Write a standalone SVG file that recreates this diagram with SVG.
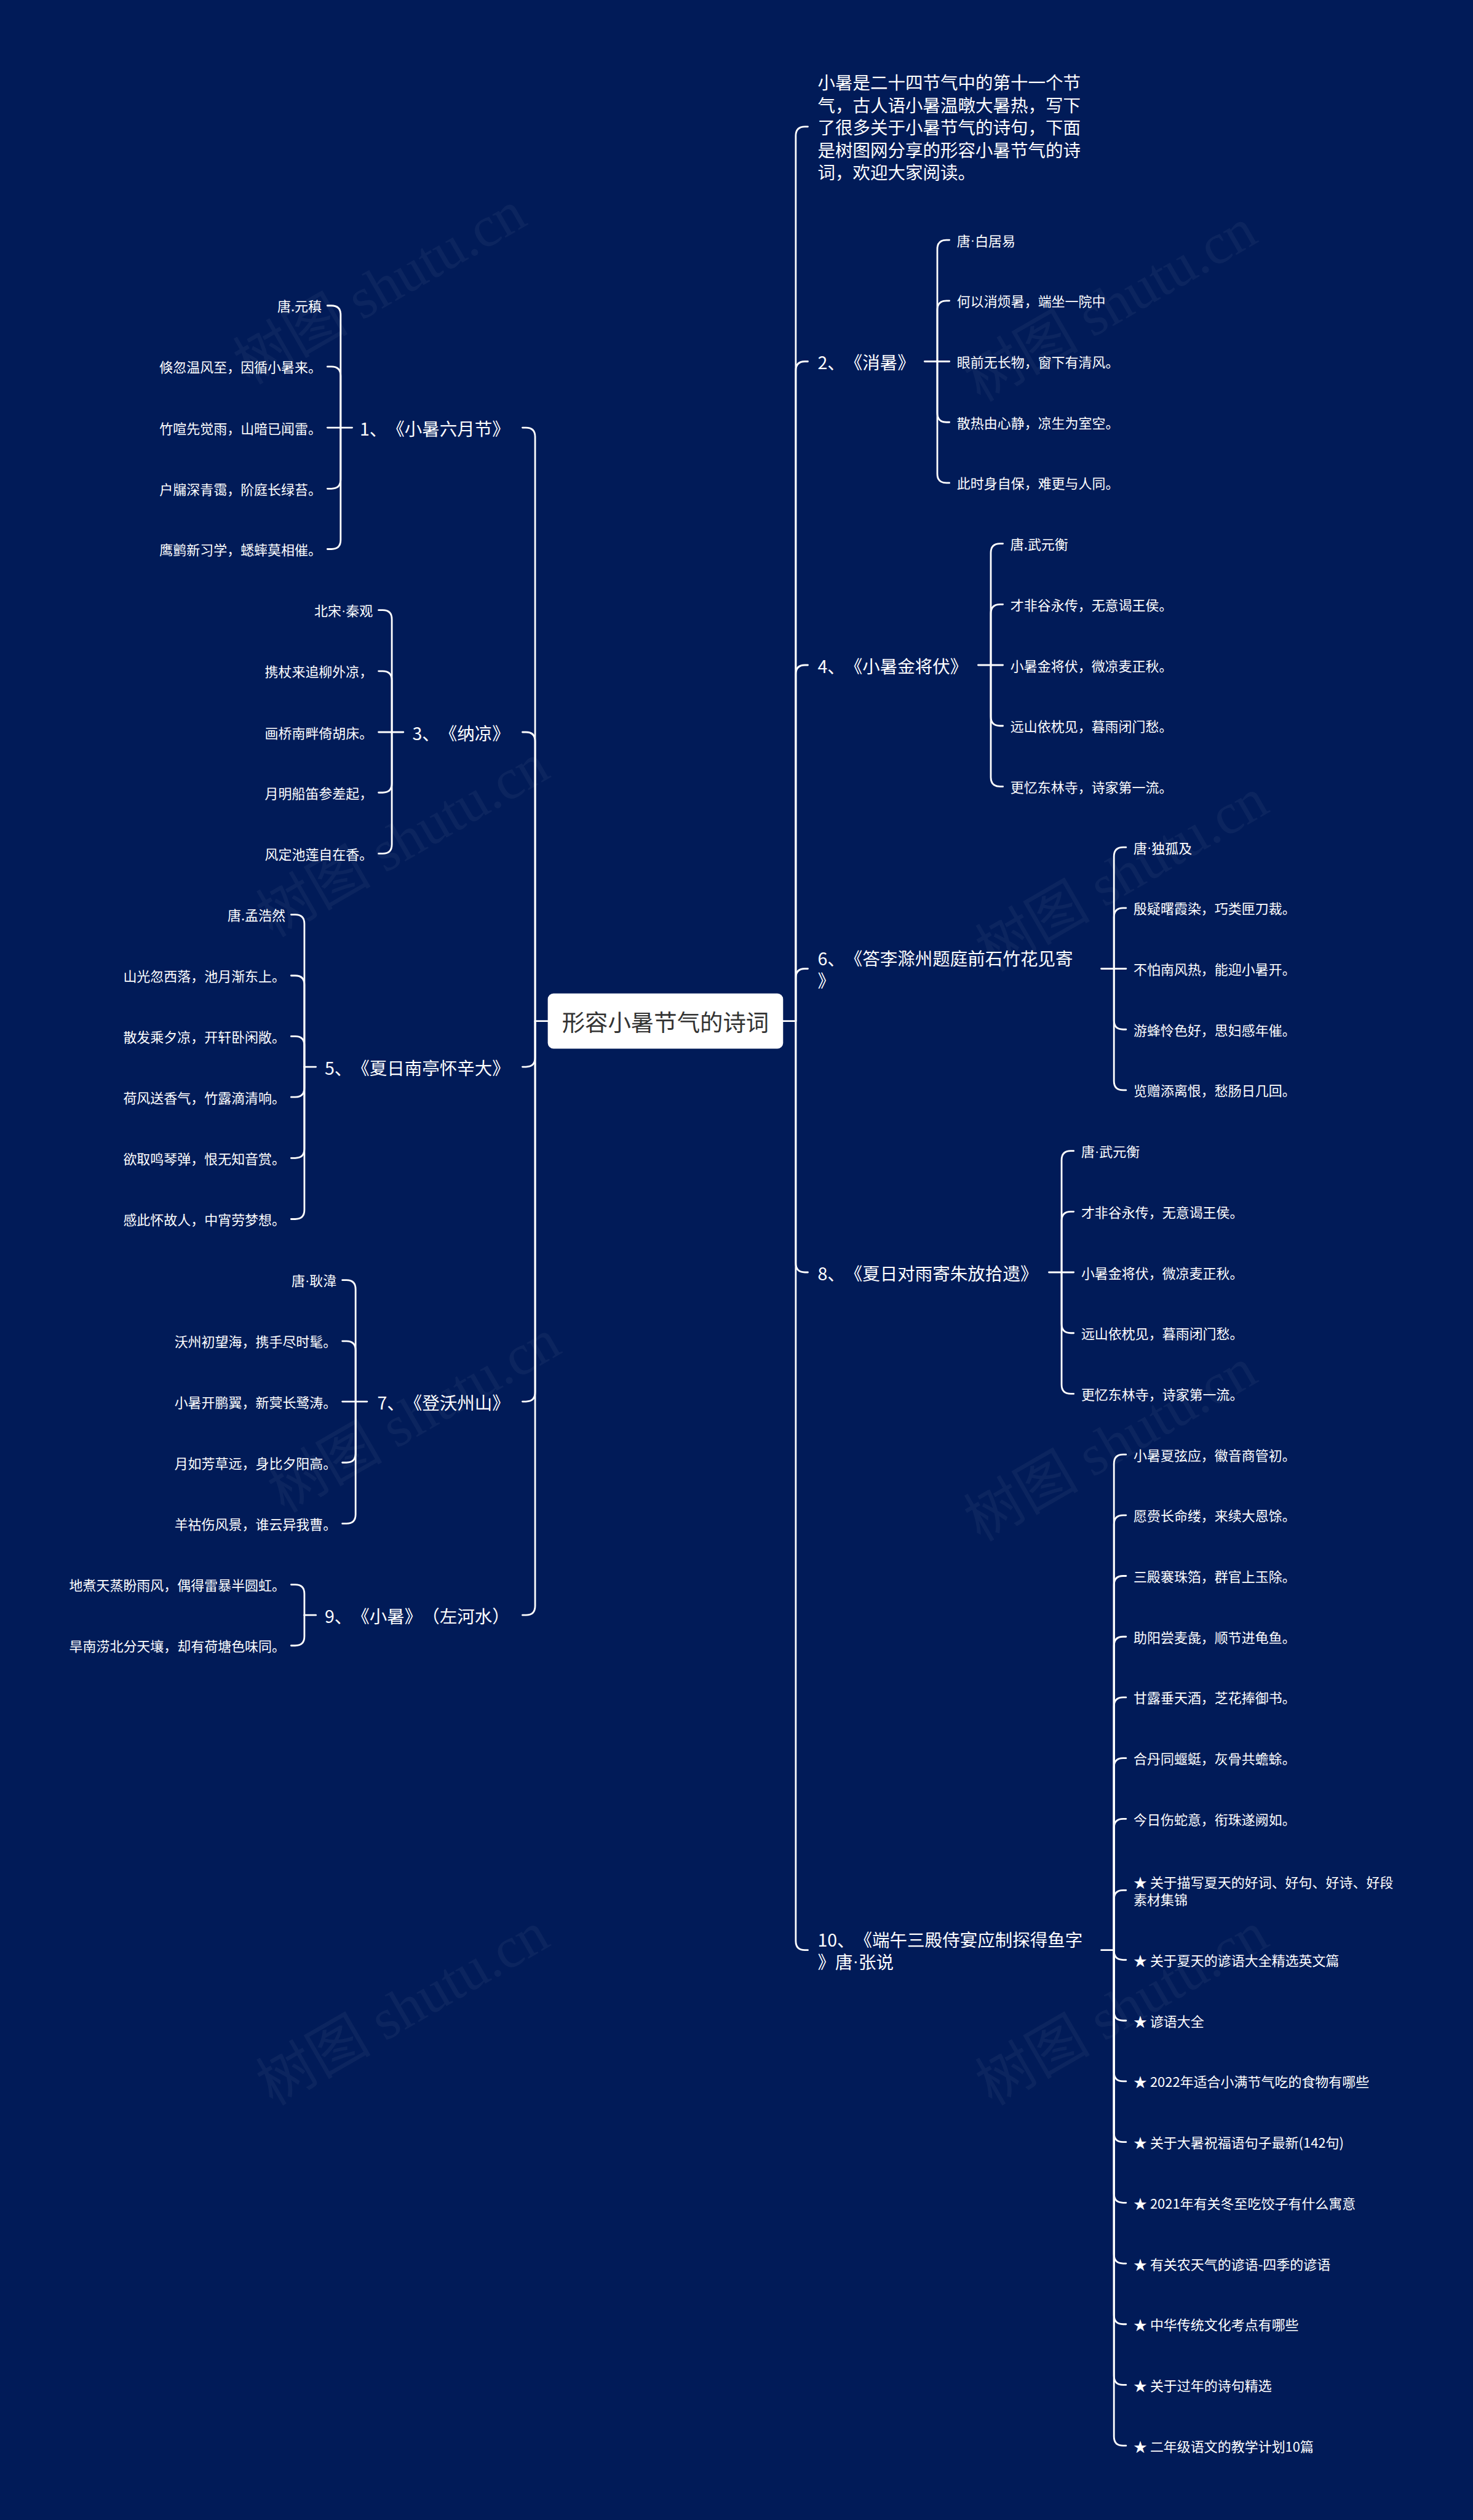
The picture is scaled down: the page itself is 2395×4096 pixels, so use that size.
<svg xmlns="http://www.w3.org/2000/svg" width="2395" height="4096" viewBox="0 0 2395 4096">
<style>
text{font-family:"Noto Sans CJK SC","Noto Sans",sans-serif;dominant-baseline:central;fill:#ffffff;text-spacing-trim:space-all}
.root{font-size:40px;fill:#333333;text-anchor:middle}
.l1{font-size:30.5px}
.lf{font-size:23.5px}
.e{text-anchor:end}
.d{font-family:"Liberation Sans",sans-serif}
.c path{fill:none;stroke:#ffffff;stroke-width:3;stroke-linecap:round}
.wm{font-family:"Liberation Serif","Noto Sans CJK SC",serif;font-size:100px;fill:#ffffff;opacity:0.045}
</style>
<rect x="0" y="0" width="2395" height="4096" fill="#011b58"/>
<g transform="scale(0.935547)">
<g id="watermark">
<text class="wm" transform="translate(660,500) rotate(-30)" text-anchor="middle">树图 shutu.cn</text>
<text class="wm" transform="translate(1930,530) rotate(-30)" text-anchor="middle">树图 shutu.cn</text>
<text class="wm" transform="translate(700,1460) rotate(-30)" text-anchor="middle">树图 shutu.cn</text>
<text class="wm" transform="translate(1950,1520) rotate(-30)" text-anchor="middle">树图 shutu.cn</text>
<text class="wm" transform="translate(720,2460) rotate(-30)" text-anchor="middle">树图 shutu.cn</text>
<text class="wm" transform="translate(1930,2510) rotate(-30)" text-anchor="middle">树图 shutu.cn</text>
<text class="wm" transform="translate(700,3490) rotate(-30)" text-anchor="middle">树图 shutu.cn</text>
<text class="wm" transform="translate(1950,3490) rotate(-30)" text-anchor="middle">树图 shutu.cn</text>
</g>
<g id="connectors" class="c">
<path d="M952 1774H930M1361 1774H1383"/>
<path d="M1383 1774V236Q1383 220 1399 220H1404"/>
<path d="M1383 1774V644Q1383 628 1399 628H1404"/>
<path d="M1383 1774V1171.5Q1383 1155.5 1399 1155.5H1404"/>
<path d="M1383 1774V1699Q1383 1683 1399 1683H1404"/>
<path d="M1383 1774V2194.5Q1383 2210.5 1399 2210.5H1404"/>
<path d="M1383 1774V3372Q1383 3388 1399 3388H1404"/>
<path d="M930 1774V759Q930 743 914 743H908"/>
<path d="M930 1774V1288Q930 1272 914 1272H908"/>
<path d="M930 1774V1837.5Q930 1853.5 914 1853.5H908"/>
<path d="M930 1774V2419Q930 2435 914 2435H908"/>
<path d="M930 1774V2790Q930 2806 914 2806H908"/>
<path d="M1607 628H1650"/>
<path d="M1629 628V433Q1629 417 1645 417H1650"/>
<path d="M1629 628V538.5Q1629 522.5 1645 522.5H1650"/>
<path d="M1629 628V717.5Q1629 733.5 1645 733.5H1650"/>
<path d="M1629 628V823Q1629 839 1645 839H1650"/>
<path d="M1700 1155.5H1743"/>
<path d="M1722 1155.5V960.5Q1722 944.5 1738 944.5H1743"/>
<path d="M1722 1155.5V1066Q1722 1050 1738 1050H1743"/>
<path d="M1722 1155.5V1245Q1722 1261 1738 1261H1743"/>
<path d="M1722 1155.5V1350.5Q1722 1366.5 1738 1366.5H1743"/>
<path d="M1914 1683H1957"/>
<path d="M1936 1683V1488Q1936 1472 1952 1472H1957"/>
<path d="M1936 1683V1593.5Q1936 1577.5 1952 1577.5H1957"/>
<path d="M1936 1683V1772.5Q1936 1788.5 1952 1788.5H1957"/>
<path d="M1936 1683V1878Q1936 1894 1952 1894H1957"/>
<path d="M1823 2210.5H1866"/>
<path d="M1845 2210.5V2015.5Q1845 1999.5 1861 1999.5H1866"/>
<path d="M1845 2210.5V2121Q1845 2105 1861 2105H1866"/>
<path d="M1845 2210.5V2300Q1845 2316 1861 2316H1866"/>
<path d="M1845 2210.5V2405.5Q1845 2421.5 1861 2421.5H1866"/>
<path d="M1914 3388H1936"/>
<path d="M1936 3388V2543Q1936 2527 1952 2527H1957"/>
<path d="M1936 3388V2648.5Q1936 2632.5 1952 2632.5H1957"/>
<path d="M1936 3388V2754Q1936 2738 1952 2738H1957"/>
<path d="M1936 3388V2859.5Q1936 2843.5 1952 2843.5H1957"/>
<path d="M1936 3388V2965Q1936 2949 1952 2949H1957"/>
<path d="M1936 3388V3070.5Q1936 3054.5 1952 3054.5H1957"/>
<path d="M1936 3388V3176Q1936 3160 1952 3160H1957"/>
<path d="M1936 3388V3300Q1936 3284 1952 3284H1957"/>
<path d="M1936 3388V3389Q1936 3405 1952 3405H1957"/>
<path d="M1936 3388V3494.5Q1936 3510.5 1952 3510.5H1957"/>
<path d="M1936 3388V3600Q1936 3616 1952 3616H1957"/>
<path d="M1936 3388V3705.5Q1936 3721.5 1952 3721.5H1957"/>
<path d="M1936 3388V3811Q1936 3827 1952 3827H1957"/>
<path d="M1936 3388V3916.5Q1936 3932.5 1952 3932.5H1957"/>
<path d="M1936 3388V4022Q1936 4038 1952 4038H1957"/>
<path d="M1936 3388V4127.5Q1936 4143.5 1952 4143.5H1957"/>
<path d="M1936 3388V4233Q1936 4249 1952 4249H1957"/>
<path d="M612 743H569"/>
<path d="M592 743V547Q592 531 576 531H569"/>
<path d="M592 743V653Q592 637 576 637H569"/>
<path d="M592 743V833Q592 849 576 849H569"/>
<path d="M592 743V938Q592 954 576 954H569"/>
<path d="M701 1272H658"/>
<path d="M681 1272V1076Q681 1060 665 1060H658"/>
<path d="M681 1272V1182Q681 1166 665 1166H658"/>
<path d="M681 1272V1361Q681 1377 665 1377H658"/>
<path d="M681 1272V1467Q681 1483 665 1483H658"/>
<path d="M549 1853.5H529"/>
<path d="M529 1853.5V1605Q529 1589 513 1589H506"/>
<path d="M529 1853.5V1711Q529 1695 513 1695H506"/>
<path d="M529 1853.5V1816.5Q529 1800.5 513 1800.5H506"/>
<path d="M529 1853.5V1890Q529 1906 513 1906H506"/>
<path d="M529 1853.5V1996Q529 2012 513 2012H506"/>
<path d="M529 1853.5V2102Q529 2118 513 2118H506"/>
<path d="M638 2435H595"/>
<path d="M618 2435V2240Q618 2224 602 2224H595"/>
<path d="M618 2435V2346Q618 2330 602 2330H595"/>
<path d="M618 2435V2525Q618 2541 602 2541H595"/>
<path d="M618 2435V2631Q618 2647 602 2647H595"/>
<path d="M549 2806H529"/>
<path d="M529 2806V2769Q529 2753 513 2753H506"/>
<path d="M529 2806V2843Q529 2859 513 2859H506"/>
</g>
<g id="n-root">
<rect x="952" y="1726" width="409" height="96" rx="10" fill="#ffffff"/>
<text class="root" x="1156.5" y="1774">形容小暑节气的诗词</text>
</g>
<g id="n-intro">
<text class="l1" x="1421" y="142">小暑是二十四节气中的第十一个节</text>
<text class="l1" x="1421" y="181">气，古人语小暑温暾大暑热，写下</text>
<text class="l1" x="1421" y="220">了很多关于小暑节气的诗句，下面</text>
<text class="l1" x="1421" y="259">是树图网分享的形容小暑节气的诗</text>
<text class="l1" x="1421" y="298">词，欢迎大家阅读。</text>
</g>
<g id="n-b2">
<text class="l1" x="1421" y="628">2、《消暑》</text>
</g>
<g id="n-b2-leaves">
<text class="lf" x="1663" y="417">唐<tspan class="d">·</tspan>白居易</text>
<text class="lf" x="1663" y="522.5">何以消烦暑，端坐一院中</text>
<text class="lf" x="1663" y="628">眼前无长物，窗下有清风。</text>
<text class="lf" x="1663" y="733.5">散热由心静，凉生为室空。</text>
<text class="lf" x="1663" y="839">此时身自保，难更与人同。</text>
</g>
<g id="n-b4">
<text class="l1" x="1421" y="1155.5">4、《小暑金将伏》</text>
</g>
<g id="n-b4-leaves">
<text class="lf" x="1756" y="944.5">唐.武元衡</text>
<text class="lf" x="1756" y="1050">才非谷永传，无意谒王侯。</text>
<text class="lf" x="1756" y="1155.5">小暑金将伏，微凉麦正秋。</text>
<text class="lf" x="1756" y="1261">远山依枕见，暮雨闭门愁。</text>
<text class="lf" x="1756" y="1366.5">更忆东林寺，诗家第一流。</text>
</g>
<g id="n-b6">
<text class="l1" x="1421" y="1664">6、《答李滁州题庭前石竹花见寄</text>
<text class="l1" x="1421" y="1702">》</text>
</g>
<g id="n-b6-leaves">
<text class="lf" x="1970" y="1472">唐<tspan class="d">·</tspan>独孤及</text>
<text class="lf" x="1970" y="1577.5">殷疑曙霞染，巧类匣刀裁。</text>
<text class="lf" x="1970" y="1683">不怕南风热，能迎小暑开。</text>
<text class="lf" x="1970" y="1788.5">游蜂怜色好，思妇感年催。</text>
<text class="lf" x="1970" y="1894">览赠添离恨，愁肠日几回。</text>
</g>
<g id="n-b8">
<text class="l1" x="1421" y="2210.5">8、《夏日对雨寄朱放拾遗》</text>
</g>
<g id="n-b8-leaves">
<text class="lf" x="1879" y="1999.5">唐<tspan class="d">·</tspan>武元衡</text>
<text class="lf" x="1879" y="2105">才非谷永传，无意谒王侯。</text>
<text class="lf" x="1879" y="2210.5">小暑金将伏，微凉麦正秋。</text>
<text class="lf" x="1879" y="2316">远山依枕见，暮雨闭门愁。</text>
<text class="lf" x="1879" y="2421.5">更忆东林寺，诗家第一流。</text>
</g>
<g id="n-b10">
<text class="l1" x="1421" y="3369">10、《端午三殿侍宴应制探得鱼字</text>
<text class="l1" x="1421" y="3407">》唐<tspan class="d">·</tspan>张说</text>
</g>
<g id="n-b10-leaves">
<text class="lf" x="1970" y="2527">小暑夏弦应，徽音商管初。</text>
<text class="lf" x="1970" y="2632.5">愿赍长命缕，来续大恩馀。</text>
<text class="lf" x="1970" y="2738">三殿褰珠箔，群官上玉除。</text>
<text class="lf" x="1970" y="2843.5">助阳尝麦彘，顺节进龟鱼。</text>
<text class="lf" x="1970" y="2949">甘露垂天酒，芝花捧御书。</text>
<text class="lf" x="1970" y="3054.5">合丹同蝘蜓，灰骨共蟾蜍。</text>
<text class="lf" x="1970" y="3160">今日伤蛇意，衔珠遂阙如。</text>
<text class="lf" x="1970" y="3269">★ 关于描写夏天的好词、好句、好诗、好段</text>
<text class="lf" x="1970" y="3299">素材集锦</text>
<text class="lf" x="1970" y="3405">★ 关于夏天的谚语大全精选英文篇</text>
<text class="lf" x="1970" y="3510.5">★ 谚语大全</text>
<text class="lf" x="1970" y="3616">★ 2022年适合小满节气吃的食物有哪些</text>
<text class="lf" x="1970" y="3721.5">★ 关于大暑祝福语句子最新(142句)</text>
<text class="lf" x="1970" y="3827">★ 2021年有关冬至吃饺子有什么寓意</text>
<text class="lf" x="1970" y="3932.5">★ 有关农天气的谚语-四季的谚语</text>
<text class="lf" x="1970" y="4038">★ 中华传统文化考点有哪些</text>
<text class="lf" x="1970" y="4143.5">★ 关于过年的诗句精选</text>
<text class="lf" x="1970" y="4249">★ 二年级语文的教学计划10篇</text>
</g>
<g id="n-b1">
<text class="l1 e" x="886" y="743">1、《小暑六月节》</text>
</g>
<g id="n-b1-leaves">
<text class="lf e" x="559" y="531">唐.元稹</text>
<text class="lf e" x="559" y="637">倏忽温风至，因循小暑来。</text>
<text class="lf e" x="559" y="743">竹喧先觉雨，山暗已闻雷。</text>
<text class="lf e" x="559" y="849">户牖深青霭，阶庭长绿苔。</text>
<text class="lf e" x="559" y="954">鹰鹯新习学，蟋蟀莫相催。</text>
</g>
<g id="n-b3">
<text class="l1 e" x="886" y="1272">3、《纳凉》</text>
</g>
<g id="n-b3-leaves">
<text class="lf e" x="648" y="1060">北宋<tspan class="d">·</tspan>秦观</text>
<text class="lf e" x="648" y="1166">携杖来追柳外凉，</text>
<text class="lf e" x="648" y="1272">画桥南畔倚胡床。</text>
<text class="lf e" x="648" y="1377">月明船笛参差起，</text>
<text class="lf e" x="648" y="1483">风定池莲自在香。</text>
</g>
<g id="n-b5">
<text class="l1 e" x="886" y="1853.5">5、《夏日南亭怀辛大》</text>
</g>
<g id="n-b5-leaves">
<text class="lf e" x="496" y="1589">唐.孟浩然</text>
<text class="lf e" x="496" y="1695">山光忽西落，池月渐东上。</text>
<text class="lf e" x="496" y="1800.5">散发乘夕凉，开轩卧闲敞。</text>
<text class="lf e" x="496" y="1906">荷风送香气，竹露滴清响。</text>
<text class="lf e" x="496" y="2012">欲取鸣琴弹，恨无知音赏。</text>
<text class="lf e" x="496" y="2118">感此怀故人，中宵劳梦想。</text>
</g>
<g id="n-b7">
<text class="l1 e" x="886" y="2435">7、《登沃州山》</text>
</g>
<g id="n-b7-leaves">
<text class="lf e" x="585" y="2224">唐<tspan class="d">·</tspan>耿湋</text>
<text class="lf e" x="585" y="2330">沃州初望海，携手尽时髦。</text>
<text class="lf e" x="585" y="2435">小暑开鹏翼，新蓂长鹭涛。</text>
<text class="lf e" x="585" y="2541">月如芳草远，身比夕阳高。</text>
<text class="lf e" x="585" y="2647">羊祜伤风景，谁云异我曹。</text>
</g>
<g id="n-b9">
<text class="l1 e" x="886" y="2806">9、《小暑》（左河水）</text>
</g>
<g id="n-b9-leaves">
<text class="lf e" x="496" y="2753">地煮天蒸盼雨风，偶得雷暴半圆虹。</text>
<text class="lf e" x="496" y="2859">旱南涝北分天壤，却有荷塘色味同。</text>
</g>
</g>
</svg>
